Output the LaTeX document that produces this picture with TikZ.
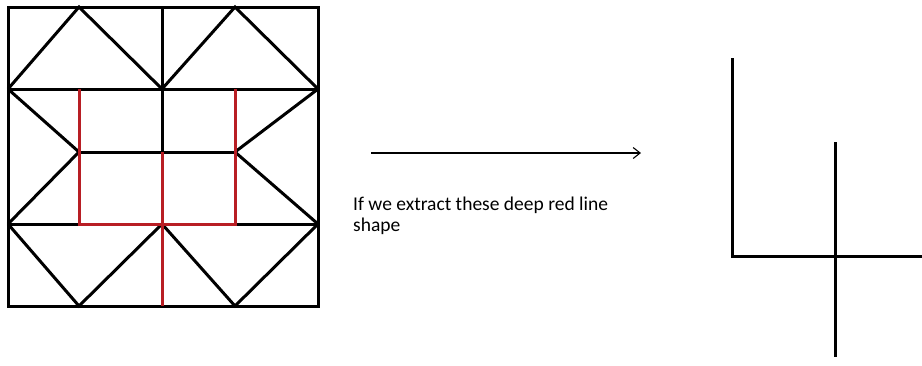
\documentclass[tikz,border=0pt]{standalone}
\usepackage{fontspec}
\setmainfont{Carlito}
\usetikzlibrary{arrows.meta}
\definecolor{blockink}{HTML}{000000}
\definecolor{blockred}{HTML}{B81E24}

\begin{document}
\begin{tikzpicture}[
  x=1pt,
  y=-1pt,
  every node/.style={font=\fontsize{19.5}{21}\selectfont, blockink},
  edge/.style={blockink, line width=3pt, line join=miter},
  redline/.style={blockred, line width=3pt},
  pointer/.style={blockink, line width=1.1pt,
                  -{Straight Barb[length=7pt, width=11pt]}}
]
  % ---- page frame, same size as the scan --------------------------------
  \useasboundingbox (0,0) rectangle (922,365);

  % ---- grid points of the block ----------------------------------------
  \coordinate (tl) at (8,7);
  \coordinate (br) at (318,306);
  \coordinate (topL) at (79,7);
  \coordinate (topR) at (235,7);
  \coordinate (botL) at (79,306);
  \coordinate (botR) at (235,306);
  \coordinate (midL) at (79,152);
  \coordinate (midR) at (235,152);

  % ---- outer square ----------------------------------------------------
  \draw[edge] (tl) rectangle (br);

  % ---- top row: two flying geese ---------------------------------------
  \draw[edge] (8,89) -- (topL) -- (162,89) -- (topR) -- (318,89);
  \draw[edge] (8,89) -- (318,89);
  \draw[edge] (162,7) -- (162,152);

  % ---- middle band -----------------------------------------------------
  \draw[edge] (8,89) -- (midL) -- (8,224);
  \draw[edge] (318,89) -- (midR) -- (318,224);
  \draw[edge] (midL) -- (midR);
  \draw[edge] (8,224) -- (79,224);
  \draw[edge] (235,224) -- (318,224);

  % ---- bottom row --------------------------------------------------------
  \draw[edge] (8,224) -- (botL) -- (162,224) -- (botR) -- (318,224);

  % ---- the deep red lines ----------------------------------------------
  \draw[redline] (79,89) -- (79,224) -- (235,224) -- (235,89);
  \draw[redline] (162,152) -- (162,306);

  % ---- arrow and its words ---------------------------------------------
  \coordinate (from) at (371,153);
  \coordinate (to) at (641,153);
  \draw[pointer] (from) -- (to);
  \node[anchor=base west, align=left, inner sep=0pt] (caption) at (353,231)
    {If we extract these deep red line\\shape};

  % ---- the extracted shape ---------------------------------------------
  \draw[edge] (732,58) -- (732,256) -- (922,256);
  \draw[edge] (835,142) -- (835,357);

\end{tikzpicture}
\end{document}
